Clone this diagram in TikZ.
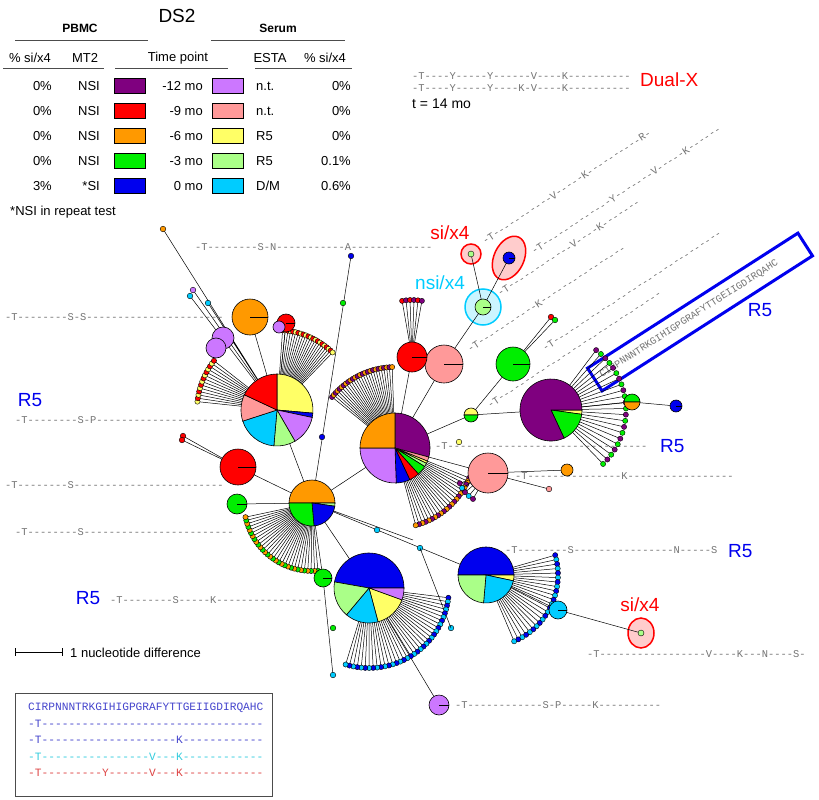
\documentclass[tikz,border=0pt]{standalone}
\usepackage{fontspec}
\setmainfont{Liberation Sans}
\setmonofont{Liberation Mono}
\usetikzlibrary{calc,shapes}
\definecolor{dsPurple}{HTML}{7F007F}
\definecolor{dsRed}{HTML}{FF0000}
\definecolor{dsOrange}{HTML}{FF9900}
\definecolor{dsGreen}{HTML}{00EE00}
\definecolor{dsBlue}{HTML}{0000EE}
\definecolor{dsLilac}{HTML}{CC77FF}
\definecolor{dsPink}{HTML}{FF9999}
\definecolor{dsYellow}{HTML}{FFFF66}
\definecolor{dsLime}{HTML}{AAFF88}
\definecolor{dsCyan}{HTML}{00CCFF}
\definecolor{seqBlue}{HTML}{4444CC}
\definecolor{seqCyan}{HTML}{33CCDD}
\definecolor{seqRed}{HTML}{DD4444}

\newcommand\pieslice[5]{\filldraw[fill=#5,draw=black,line width=.6pt] (#1) -- ++(#2:#4) arc[start angle=#2,end angle=#3,radius=#4] -- cycle;}
\newcommand\fan[7]{%
  \foreach \j in {0,...,\numexpr#5-1\relax}{
    \pgfmathsetmacro\ang{#3+(#4-#3)*\j/(#5-1)}
    \pgfmathtruncatemacro\odd{mod(\j,2)}
    \ifnum\odd=1 \def\col{#7}\else\def\col{#6}\fi
    \draw[branch] (#1) -- ($(#1)+(\ang:#2)$);
    \filldraw[leaf,fill=\col] ($(#1)+(\ang:#2)$) circle[radius=2.6];}}

\begin{document}
\begin{tikzpicture}[x=1pt,y=-1pt,
    branch/.style={draw=black,line width=.5pt},
    leaf/.style={draw=black,line width=.4pt},
    hub/.style={draw=black,line width=.6pt},
    seq/.style={font=\ttfamily\fontsize{10.4}{12}\selectfont,text=black!55,inner sep=0,anchor=west},
    boxseq/.style={font=\ttfamily\fontsize{11.2}{12}\selectfont,inner sep=0,anchor=west},
    lab/.style={font=\fontsize{13}{15}\selectfont,inner sep=0},
    tag/.style={font=\fontsize{19}{22}\selectfont,inner sep=0},
    swatch/.style={draw=black,line width=.8pt,minimum width=31,minimum height=15,inner sep=0}]
\useasboundingbox (0,0) rectangle (819,800);

% legend
\node[tag] (ds) at (177,16) {DS2};
\node[lab,font=\bfseries\fontsize{12}{14}\selectfont] (pbmc) at (80,28) {PBMC};
\node[lab,font=\bfseries\fontsize{12}{14}\selectfont] (serum) at (278,28) {Serum};
\draw[black!70] (15,40) -- (148,40) (211,40) -- (345,40);
\node[lab] (h1) at (30,58) {\% si/x4};
\node[lab] (h2) at (85,58) {MT2};
\node[lab] (h3) at (178,58) {Time point};
\node[lab] (h4) at (270,58) {ESTA};
\node[lab] (h5) at (325,58) {\% si/x4};
\draw[black!70] (3,68) -- (104,68) (115,68) -- (228,68) (255,68) -- (352,68);
\foreach \pc/\mt/\cl/\tp/\cr/\es/\ps [count=\i] in
  {0\%/NSI/dsPurple/-12 mo/dsLilac/n.t./0\%,
   0\%/NSI/dsRed/-9 mo/dsPink/n.t./0\%,
   0\%/NSI/dsOrange/-6 mo/dsYellow/R5/0\%,
   0\%/NSI/dsGreen/-3 mo/dsLime/R5/0.1\%,
   3\%/*SI/dsBlue/0 mo/dsCyan/{D/M}/0.6\%}{
  \pgfmathsetmacro\ry{86+25*(\i-1)}
  \node[lab,anchor=east] (pc\i) at (52,\ry) {\pc};
  \node[lab,anchor=east] (mt\i) at (100,\ry) {\mt};
  \node[swatch,fill=\cl] (sl\i) at (130,\ry) {};
  \node[lab,anchor=east] (tp\i) at (203,\ry) {\tp};
  \node[swatch,fill=\cr] (sr\i) at (228,\ry) {};
  \node[lab,anchor=west] (es\i) at (256,\ry) {\es};
  \node[lab,anchor=east] (ps\i) at (351,\ry) {\ps};
}
\node[lab,anchor=west] (note) at (10,212) {*NSI in repeat test};

% hubs
\coordinate (A) at (277,410);
\coordinate (B) at (395,448);
\coordinate (C) at (312,503);
\coordinate (D) at (369,588);
\coordinate (E) at (486,575);
\coordinate (F) at (551,410);
\coordinate (G) at (250,317);
\coordinate (H) at (444,364);
\coordinate (I) at (412,357);
\coordinate (J) at (513,364);
\coordinate (K) at (488,473);
\coordinate (L) at (238,467);
\coordinate (M) at (237,504);
\coordinate (Y) at (471,415);
\coordinate (N) at (483,307);
\coordinate (sA) at (471,254);
\coordinate (sB) at (509,258);
\coordinate (sC) at (641,633);
\coordinate (cy) at (558,610);
\coordinate (mx) at (632,402);
\coordinate (bl) at (676,406);
\coordinate (M2) at (323,578);
\coordinate (lil) at (439,705);
\coordinate (rd) at (286,323);

% dashed sequence lines
\node[seq] (q1) at (195,247) {-T--------S-N-----------A-------------};
\node[seq] (q2) at (5,317) {-T--------S-S----------------------};
\node[seq] (q3) at (15,420) {-T--------S-P----------------------};
\node[seq] (q4) at (5,485) {-T--------S------------------------};
\node[seq] (q5) at (15,532) {-T--------S------------------------};
\node[seq] (q6) at (110,600) {-T--------S-----K-----------------};
\node[seq] (q7) at (505,550) {-T--------S----------------N-----S};
\node[seq] (q8) at (587,654) {-T-----------------V----K---N----S-};
\node[seq] (q9) at (435,446) {-T--------------------------------};
\node[seq] (q10) at (515,476) {-T---------------K-----------------};
\node[seq] (q11) at (455,705) {-T------------S-P-----K----------};
\node[seq] (dx1) at (412,76) {-T----Y-----Y------V----K----------};
\node[seq] (dx2) at (412,88) {-T----Y-----Y----K-V----K----------};
\node[lab,anchor=west,font=\fontsize{14}{16}\selectfont] (tt) at (412,104) {t = 14 mo};
\node[tag,anchor=west,text=dsRed] (dual) at (640,80) {Dual-X};
\node[seq,rotate=33.4] (r1) at (483,242) {-T-----------V-----K----------R-};
\node[seq,rotate=33.4] (r2) at (532,252) {-T-------------Y-------V-----K------};
\node[seq,rotate=33.4] (r3) at (498,294) {-T------------V----K-------};
\node[seq,rotate=33.4] (r4) at (468,350) {-T-----------K----------------};
\node[seq,rotate=33.4] (r5) at (543,349) {-T--------------------------------};
\node[seq,rotate=33.4] (r6) at (488,406) {-T-------------------------------};

% R5 box
\node[draw=dsBlue,line width=3pt,rotate=32.7,minimum width=250,minimum height=27,
      text width=236,align=left,
      font=\ttfamily\fontsize{10}{12}\selectfont,text=black!55] (rbox) at (700,312)
      {CIRPNNNTRKGIHIGPGRAFYTTGEIIGDIRQAHC};

% tags
\node[tag,text=dsBlue] (t1) at (30,400) {R5};
\node[tag,text=dsBlue] (t2) at (760,310) {R5};
\node[tag,text=dsBlue,anchor=west] (t3) at (660,446) {R5};
\node[tag,text=dsBlue,anchor=west] (t4) at (728,551) {R5};
\node[tag,text=dsBlue] (t5) at (88,598) {R5};
\node[tag,text=dsRed] (t6) at (450,233) {si/x4};
\node[tag,text=dsCyan] (t7) at (440,283) {nsi/x4};
\node[tag,text=dsRed] (t8) at (640,605) {si/x4};

% highlight rings
\filldraw[draw=dsCyan,fill=dsCyan!20,line width=1.5pt] (N) circle[radius=18];
\filldraw[draw=dsRed,fill=dsPink!50,line width=1.5pt] (sA) circle[radius=10];
\filldraw[draw=dsRed,fill=dsPink!50,line width=1.5pt,rotate around={-25:(sB)}] (sB) ellipse[x radius=15,y radius=23];
\filldraw[draw=dsRed,fill=dsPink!50,line width=1.5pt] (sC) ellipse[x radius=13,y radius=15];

% connections
\draw[branch] (A) -- (G) (A) -- (C) (C) -- (B) (C) -- (D) (C) -- (L) (C) -- (M)
  (C) -- (E) (E) -- (cy) (cy) -- (sC) (B) -- (H) (H) -- (N) (N) -- (sA) (N) -- (sB)
  (B) -- (Y) (Y) -- (J) (Y) -- (F) (B) -- (K) (B) -- (I) (F) -- (mx) (mx) -- (bl)
  (C) -- (M2) (M2) -- (333,675) (D) -- (lil) (A) -- (rd) (A) -- (163,229)
  (A) -- (190,296) (A) -- (193,290) (A) -- (208,303) (C) -- (351,256)
  (L) -- (183,436) (L) -- (182,440) (K) -- (567,470) (K) -- (549,489)
  (J) -- (551,317) (J) -- (555,320) (C) -- (413,540);
\foreach \p/\c in {{(163,229)}/dsOrange,{(190,296)}/dsCyan,{(193,290)}/dsLilac,{(208,303)}/dsCyan,
    {(351,256)}/dsBlue,{(343,303)}/dsGreen,{(322,437)}/dsBlue,{(183,436)}/dsRed,{(182,440)}/dsRed,
    {(549,489)}/dsPink,{(551,317)}/dsRed,{(555,320)}/dsGreen,{(333,675)}/dsCyan,{(333,628)}/dsGreen,
    {(377,530)}/dsCyan,{(420,548)}/dsCyan,{(451,628)}/dsCyan,{(459,442)}/dsYellow}
  \filldraw[leaf,fill=\c] \p circle[radius=2.8];
\draw[branch] (420,548) -- (451,628);

% fans
\fan{A}{80}{-86}{-46}{22}{dsRed}{dsYellow}
\fan{A}{80}{186}{218}{14}{dsYellow}{dsRed}
\fan{B}{81}{219}{268}{26}{dsPurple}{dsOrange}
\fan{B}{80}{22}{75}{22}{dsPurple}{dsOrange}
\fan{C}{68}{85}{168}{30}{dsGreen}{dsOrange}
\fan{D}{80}{7}{107}{36}{dsBlue}{dsCyan}
\fan{E}{72}{-16}{67}{24}{dsBlue}{dsCyan}
\fan{F}{75}{-53}{46}{22}{dsPurple}{dsGreen}
\fan{I}{57}{-100}{-80}{6}{dsRed}{dsPurple}
\fan{K}{30}{120}{160}{5}{dsPurple}{dsCyan}

% pies
\pieslice{A}{-90}{5}{36}{dsYellow}\pieslice{A}{5}{12}{36}{dsBlue}
\pieslice{A}{12}{60}{36}{dsLilac}\pieslice{A}{60}{95}{36}{dsLime}
\pieslice{A}{95}{162}{36}{dsCyan}\pieslice{A}{162}{205}{36}{dsPink}
\pieslice{A}{205}{270}{36}{dsRed}
\pieslice{B}{-90}{15}{35}{dsPurple}\pieslice{B}{15}{22}{35}{dsPink}
\pieslice{B}{22}{26}{35}{dsYellow}\pieslice{B}{26}{32}{35}{dsLime}
\pieslice{B}{32}{48}{35}{dsGreen}\pieslice{B}{48}{65}{35}{dsRed}
\pieslice{B}{65}{88}{35}{dsBlue}\pieslice{B}{88}{180}{35}{dsLilac}
\pieslice{B}{180}{270}{35}{dsOrange}
\pieslice{C}{-180}{0}{23}{dsOrange}\pieslice{C}{0}{8}{23}{dsLime}
\pieslice{C}{8}{85}{23}{dsBlue}\pieslice{C}{85}{180}{23}{dsGreen}
\pieslice{D}{-170}{0}{35}{dsBlue}\pieslice{D}{0}{20}{35}{dsLilac}
\pieslice{D}{20}{75}{35}{dsYellow}\pieslice{D}{75}{130}{35}{dsCyan}
\pieslice{D}{130}{190}{35}{dsLime}
\pieslice{E}{-180}{0}{28}{dsBlue}\pieslice{E}{0}{12}{28}{dsYellow}
\pieslice{E}{12}{95}{28}{dsCyan}\pieslice{E}{95}{180}{28}{dsLime}
\pieslice{F}{0}{8}{31}{dsYellow}\pieslice{F}{8}{65}{31}{dsGreen}
\pieslice{F}{65}{360}{31}{dsPurple}
\pieslice{Y}{-180}{0}{7}{dsYellow}\pieslice{Y}{0}{180}{7}{dsGreen}
\pieslice{mx}{-180}{0}{8}{dsGreen}\pieslice{mx}{0}{180}{8}{dsOrange}
\foreach \h/\r/\c in {G/18/dsOrange,H/19/dsPink,I/15/dsRed,J/17/dsGreen,K/20/dsPink,
    L/18/dsRed,M/10/dsGreen,N/8/dsLime,M2/9/dsGreen,cy/9/dsCyan,lil/10/dsLilac,
    bl/6/dsBlue,sB/6/dsBlue,rd/9/dsRed}{
  \filldraw[hub,fill=\c] (\h) circle[radius=\r];
  \draw[hub] (\h) -- ++(\r,0);}
\filldraw[hub,fill=dsLilac] (279,327) circle[radius=6];
\filldraw[hub,fill=dsLilac] (223,338) circle[radius=11];
\filldraw[hub,fill=dsLilac] (216,348) circle[radius=10];
\filldraw[hub,fill=dsOrange] (567,470) circle[radius=6];
\filldraw[leaf,fill=dsLime] (sA) circle[radius=3];
\filldraw[leaf,fill=dsLime] (sC) circle[radius=3];

% scale bar
\draw[line width=.8pt] (15,652) -- (62,652) (15,648) -- (15,656) (62,648) -- (62,656);
\node[lab,anchor=west] (scl) at (70,653) {1 nucleotide difference};

% alignment box
\draw[line width=.8pt,black!70] (15,693) rectangle (272,796);
\node[boxseq,text=seqBlue] (b1) at (28,708) {CIRPNNNTRKGIHIGPGRAFYTTGEIIGDIRQAHC};
\node[boxseq,text=seqBlue] (b2) at (28,724) {-T---------------------------------};
\node[boxseq,text=seqBlue] (b3) at (28,740) {-T--------------------K------------};
\node[boxseq,text=seqCyan] (b4) at (28,757) {-T----------------V---K------------};
\node[boxseq,text=seqRed] (b5) at (28,773) {-T---------Y------V---K------------};
\end{tikzpicture}
\end{document}
